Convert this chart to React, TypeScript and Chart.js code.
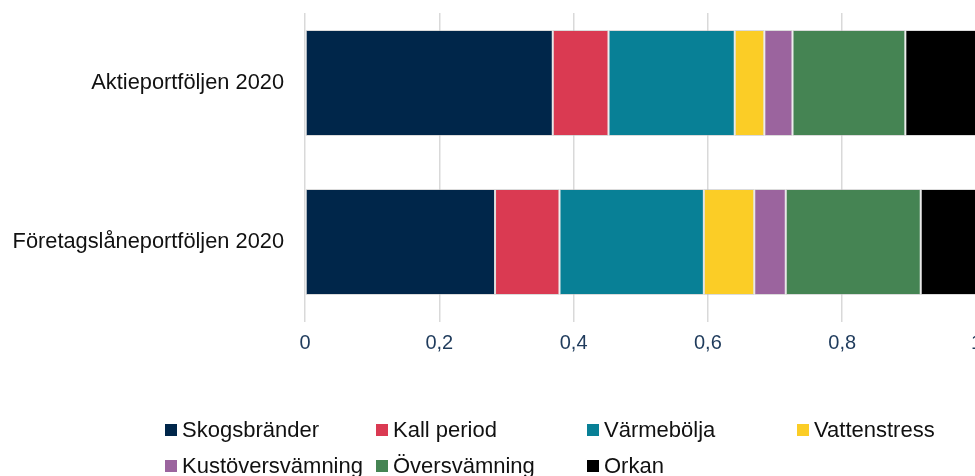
import React, { useEffect, useRef } from "react";
import { Chart, registerables } from "chart.js";

Chart.register(...registerables);

const categories = ["Aktieportföljen 2020", "Företagslåneportföljen 2020"];

const seriesNames = [
  "Skogsbränder",
  "Kall period",
  "Värmebölja",
  "Vattenstress",
  "Kustöversvämning",
  "Översvämning",
  "Orkan",
];

const skogsbrander = [0.369, 0.283];
const kallPeriod = [0.083, 0.096];
const varmebolja = [0.188, 0.215];
const vattenstress = [0.044, 0.075];
const kustoversvamning = [0.042, 0.047];
const oversvamning = [0.168, 0.201];
const orkan = [0.106, 0.083];

const seriesValues = [
  skogsbrander,
  kallPeriod,
  varmebolja,
  vattenstress,
  kustoversvamning,
  oversvamning,
  orkan,
];

const seriesColors = [
  "#00264A",
  "#DA3A52",
  "#088096",
  "#FBCD26",
  "#9B649E",
  "#458453",
  "#000000",
];

const xTicks = [0, 0.2, 0.4, 0.6, 0.8, 1];

const FONT = "'Liberation Sans', Arial, Helvetica, sans-serif";

const gridTopTrim = {
  id: "gridTopTrim",
  beforeDatasetsDraw(chart: any) {
    const { ctx, chartArea } = chart;
    ctx.save();
    ctx.fillStyle = "#ffffff";
    ctx.fillRect(chartArea.left - 3, 0, chartArea.right - chartArea.left + 6, 13);
    ctx.restore();
  },
};

const gridLegend = {
  id: "gridLegend",
  afterDraw(chart: any) {
    const ctx = chart.ctx;
    const colX = [165, 376, 587, 797];
    const rowY = [430, 466];
    ctx.save();
    ctx.font = `22px ${FONT}`;
    ctx.textBaseline = "middle";
    ctx.textAlign = "left";
    chart.data.datasets.forEach((ds: any, i: number) => {
      const c = i % 4;
      const r = Math.floor(i / 4);
      const x = colX[c];
      const y = rowY[r];
      ctx.fillStyle = ds.backgroundColor;
      ctx.fillRect(x, y - 6, 12, 12);
      ctx.fillStyle = "#111111";
      ctx.fillText(ds.label, x + 17, y + 1);
    });
    ctx.restore();
  },
};

export default function App() {
  const ref = useRef<HTMLCanvasElement | null>(null);

  useEffect(() => {
    if (!ref.current) return;
    const chart = new Chart(ref.current, {
      type: "bar",
      data: {
        labels: categories,
        datasets: seriesNames.map((name, i) => ({
          label: name,
          data: seriesValues[i],
          backgroundColor: seriesColors[i],
          borderColor: "rgba(190,190,190,0.55)",
          borderWidth: 1,
          borderSkipped: false,
          categoryPercentage: 0.667,
          barPercentage: 1,
        })),
      },
      options: {
        indexAxis: "y",
        animation: false,
        responsive: false,
        layout: {
          padding: { left: 0, right: 33.5, top: 3.5, bottom: 94.5 },
        },
        plugins: {
          legend: { display: false },
          tooltip: { enabled: false },
        },
        scales: {
          x: {
            stacked: true,
            min: 0,
            max: 1,
            afterBuildTicks: (scale: any) => {
              scale.ticks = xTicks.map((v) => ({ value: v }));
            },
            afterFit: (scale: any) => {
              scale.height = 60;
            },
            border: { display: false },
            grid: {
              color: "#d9d9d9",
              lineWidth: 1.5,
              drawTicks: false,
            },
            ticks: {
              padding: 10,
              color: "#1F3B5C",
              font: { family: FONT, size: 20 },
              callback: (v: any) => String(Math.round(Number(v) * 10) / 10).replace(".", ","),
            },
          },
          y: {
            stacked: true,
            afterFit: (scale: any) => {
              scale.width = 305;
              scale.paddingTop = 0;
              scale.paddingBottom = 0;
            },
            border: { display: false },
            grid: { display: false, drawTicks: false },
            ticks: {
              padding: 21,
              color: "#111111",
              font: { family: FONT, size: 21.8 },
            },
          },
        },
      },
      plugins: [gridTopTrim, gridLegend],
    });
    return () => chart.destroy();
  }, []);

  return (
    <div
      style={{
        position: "fixed",
        left: 0,
        top: 0,
        width: 975,
        height: 476,
        overflow: "hidden",
        background: "#ffffff",
      }}
    >
      <canvas ref={ref} width={1010} height={476} style={{ display: "block" }} />
    </div>
  );
}
